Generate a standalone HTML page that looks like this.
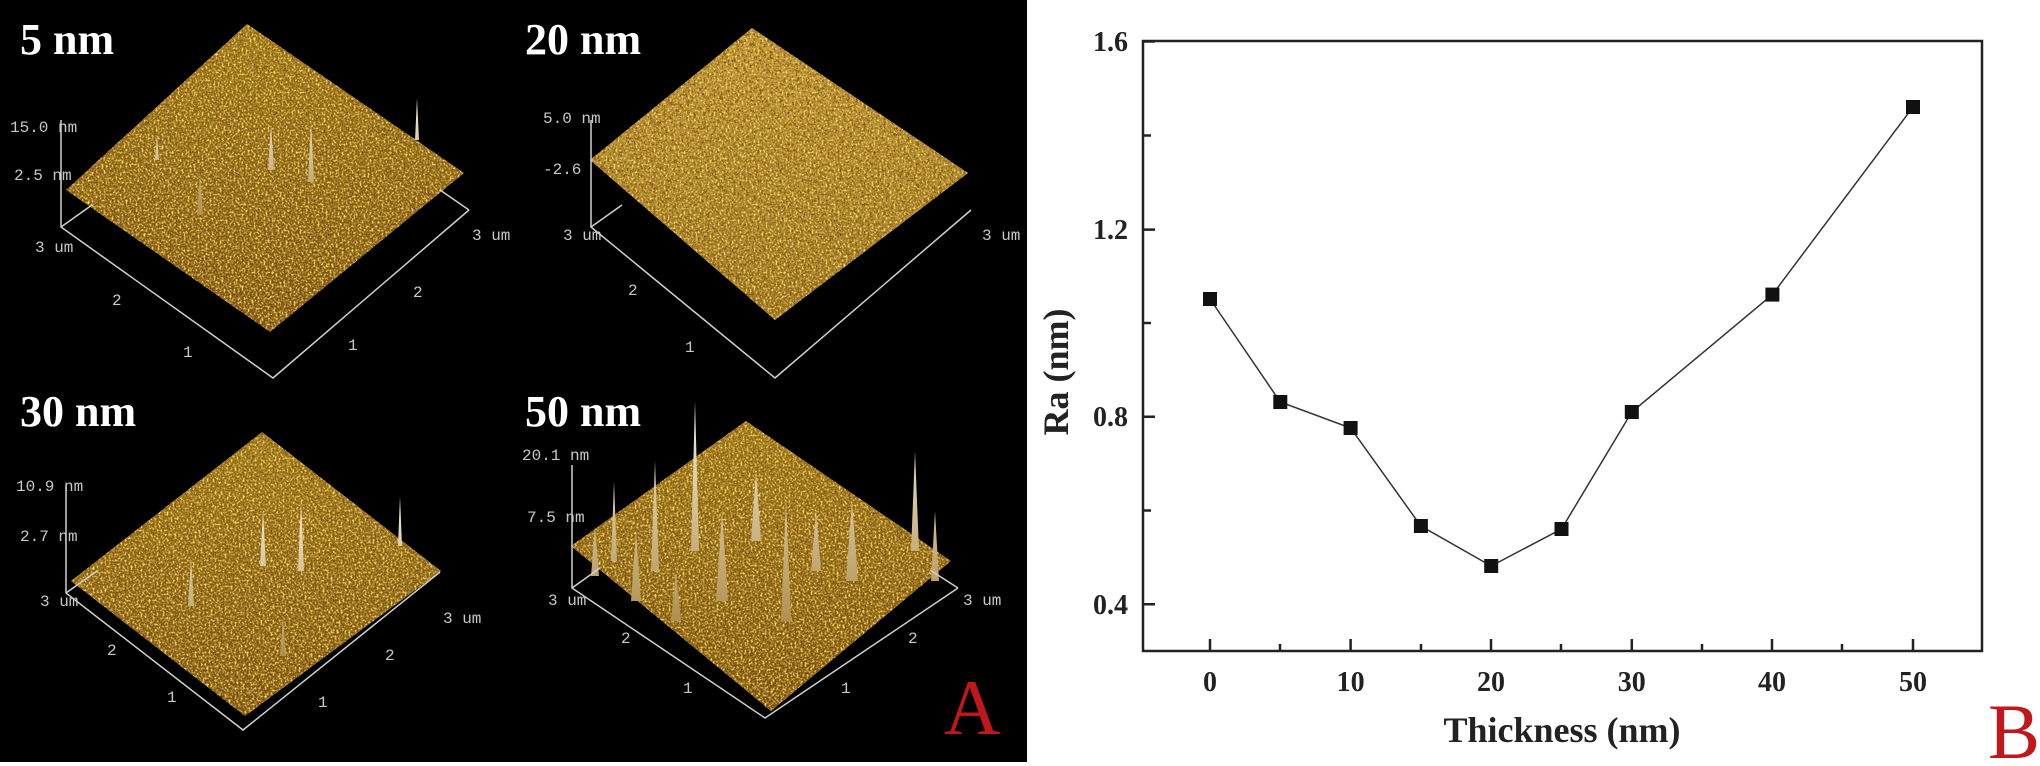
<!DOCTYPE html>
<html><head><meta charset="utf-8"><style>
html,body{margin:0;padding:0;background:#fff;}
svg{display:block;}
.ax{font-family:"Liberation Mono",monospace;font-size:16px;fill:#c8c8c8;}
.tt{font-family:"Liberation Serif",serif;font-weight:bold;font-size:44px;fill:#fff;}
.tk{font-family:"Liberation Serif",serif;font-weight:bold;font-size:28px;fill:#222;}
</style></head><body>
<svg width="2040" height="766" viewBox="0 0 2040 766" xmlns="http://www.w3.org/2000/svg">
<defs>
<filter id="tex" x="0" y="0" width="100%" height="100%">
<feTurbulence type="fractalNoise" baseFrequency="0.5" numOctaves="2" seed="3" result="n"/>
<feColorMatrix in="n" type="matrix" values="2 0 0 0 -0.3  1.7 0 0 0 -0.4  0.3 0 0 0 -0.05  0 0 0 4 -1.7" result="c"/>
<feComposite in="c" in2="SourceGraphic" operator="in"/>
</filter>
<filter id="dk" x="0" y="0" width="100%" height="100%">
<feTurbulence type="fractalNoise" baseFrequency="0.3" numOctaves="2" seed="7" result="n"/>
<feColorMatrix in="n" type="matrix" values="0 0 0 0 0.25  0 0 0 0 0.12  0 0 0 0 0  0 0 0 4 -1.8" result="c"/>
<feComposite in="c" in2="SourceGraphic" operator="in"/>
</filter>
<linearGradient id="g1" x1="0" y1="0" x2="0" y2="1">
<stop offset="0" stop-color="#9a7616"/><stop offset="1" stop-color="#6e4a0c"/></linearGradient>
<linearGradient id="g2" x1="0" y1="0" x2="0" y2="1">
<stop offset="0" stop-color="#c09a3a"/><stop offset="1" stop-color="#94701e"/></linearGradient>
<linearGradient id="sp" x1="0" y1="0" x2="0" y2="1">
<stop offset="0" stop-color="#f4f0dc"/><stop offset="1" stop-color="#b09050"/></linearGradient>
</defs>
<rect x="0" y="0" width="1027" height="762" fill="#000"/>

<g>
<polygon points="247,24 464,173 270,332 66,190" fill="url(#g1)"/>
<polygon points="247,24 464,173 270,332 66,190" fill="#fff" filter="url(#dk)"/>
<polygon points="247,24 464,173 270,332 66,190" fill="#fff" filter="url(#tex)"/>
<path d="M308,182 l3,-60 l3,60z M268,170 l3,-45 l3,45z M197,215 l3,-40 l3,40z M415,140 l2,-42 l2,42z M155,160 l2,-25 l2,25z" fill="url(#sp)"/>
</g>
<g>
<polygon points="752,28 968,173 775,320 590,160" fill="url(#g2)"/>
<polygon points="752,28 968,173 775,320 590,160" fill="#fff" filter="url(#dk)"/>
<polygon points="752,28 968,173 775,320 590,160" fill="#fff" filter="url(#tex)"/>
</g>
<g transform="translate(5,366)">
<polygon points="257,66 436,205 240,350 66,215" fill="url(#g1)"/>
<polygon points="257,66 436,205 240,350 66,215" fill="#fff" filter="url(#dk)"/>
<polygon points="257,66 436,205 240,350 66,215" fill="#fff" filter="url(#tex)"/>
<path d="M293,205 l3,-70 l3,70z M255,200 l3,-55 l3,55z M183,240 l3,-48 l3,48z M393,180 l2,-50 l2,50z M275,290 l3,-40 l3,40z" fill="url(#sp)"/>
</g>
<g transform="translate(511,361)">
<polygon points="235,60 440,200 260,350 60,185" fill="url(#g1)"/>
<polygon points="235,60 440,200 260,350 60,185" fill="#fff" filter="url(#dk)"/>
<polygon points="235,60 440,200 260,350 60,185" fill="#fff" filter="url(#tex)"/>
<path d="M180,190 l4,-150 l4,150z M140,210 l4,-110 l4,110z M100,200 l3,-80 l3,80z M240,180 l5,-70 l5,70z M205,240 l6,-90 l6,90z M335,220 l6,-80 l6,80z M270,260 l5,-120 l5,120z M400,190 l4,-100 l4,100z M300,210 l5,-60 l5,60z M120,240 l5,-70 l5,70z M160,260 l5,-50 l5,50z M80,215 l4,-50 l4,50z M420,220 l4,-70 l4,70z" fill="url(#sp)"/>
</g>

<g stroke="#d0d0d0" stroke-width="1.5" fill="none">
<path d="M61,120 V227 L273,378 L469,210 M61,227 L92,205 M469,210 L440,190"/>
<path d="M591,120 V227 L775,378 L971,210 M591,227 L622,205"/>
<path d="M66,486 V593 L243,730 L440,572 M66,593 L97,571"/>
<path d="M572,465 V588 L765,718 L958,588 M572,588 L600,568 M958,588 L930,570"/>
</g>
<g class="ax">
<text x="10" y="132">15.0 nm</text><text x="14" y="180">2.5 nm</text><text x="35" y="252">3 um</text><text x="472" y="240">3 um</text>
<text x="112" y="305">2</text><text x="183" y="357">1</text><text x="348" y="350">1</text><text x="413" y="297">2</text>
<text x="543" y="123">5.0 nm</text><text x="543" y="174">-2.6</text><text x="563" y="240">3 um</text><text x="982" y="240">3 um</text>
<text x="628" y="295">2</text><text x="685" y="352">1</text>
<text x="16" y="491">10.9 nm</text><text x="20" y="541">2.7 nm</text><text x="40" y="606">3 um</text><text x="443" y="623">3 um</text>
<text x="107" y="655">2</text><text x="167" y="702">1</text><text x="318" y="707">1</text><text x="385" y="660">2</text>
<text x="522" y="460">20.1 nm</text><text x="527" y="522">7.5 nm</text><text x="548" y="605">3 um</text><text x="963" y="605">3 um</text>
<text x="621" y="643">2</text><text x="683" y="693">1</text><text x="841" y="693">1</text><text x="908" y="643">2</text>
</g>
<text class="tt" x="20" y="54">5 nm</text>
<text class="tt" x="525" y="54">20 nm</text>
<text class="tt" x="20" y="426">30 nm</text>
<text class="tt" x="525" y="426">50 nm</text>
<text x="944" y="734" font-family="Liberation Serif,serif" font-size="78" fill="#c0171c">A</text>

<rect x="1143" y="41" width="839" height="610" fill="none" stroke="#222" stroke-width="2.5"/>
<g stroke="#222" stroke-width="2.5">
<path d="M1143,41.5 h12 M1143,135.5 h8 M1143,229.6 h12 M1143,323 h8 M1143,416.7 h12 M1143,510.5 h8 M1143,604.3 h12"/>
<path d="M1210,651 v-12 M1280,651 v-7 M1350.6,651 v-12 M1421,651 v-7 M1491,651 v-12 M1561,651 v-7 M1631.8,651 v-12 M1702,651 v-7 M1772,651 v-12 M1842,651 v-7 M1913,651 v-12"/>
</g>
<g class="tk" text-anchor="end">
<text x="1128" y="51">1.6</text><text x="1128" y="239">1.2</text><text x="1128" y="426">0.8</text><text x="1128" y="614">0.4</text>
</g>
<g class="tk" text-anchor="middle">
<text x="1210" y="691">0</text><text x="1350.6" y="691">10</text><text x="1491" y="691">20</text><text x="1631.8" y="691">30</text><text x="1772" y="691">40</text><text x="1913" y="691">50</text>
</g>
<text x="1562" y="742" text-anchor="middle" font-family="Liberation Serif,serif" font-weight="bold" font-size="36" fill="#222">Thickness (nm)</text>
<text transform="translate(1068,372) rotate(-90)" text-anchor="middle" font-family="Liberation Serif,serif" font-weight="bold" font-size="36" fill="#222">Ra (nm)</text>
<polyline fill="none" stroke="#333" stroke-width="1.5" points="1210,299 1280.3,402 1350.6,428 1420.9,526 1491.2,566 1561.5,529 1631.8,412 1772.4,294.6 1913,107"/>
<g fill="#111">
<rect x="1203" y="292" width="14" height="14"/><rect x="1273.3" y="395" width="14" height="14"/><rect x="1343.6" y="421" width="14" height="14"/>
<rect x="1413.9" y="519" width="14" height="14"/><rect x="1484.2" y="559" width="14" height="14"/><rect x="1554.5" y="522" width="14" height="14"/>
<rect x="1624.8" y="405" width="14" height="14"/><rect x="1765.4" y="287.6" width="14" height="14"/><rect x="1906" y="100" width="14" height="14"/>
</g>
<text x="1988" y="758" font-family="Liberation Serif,serif" font-size="78" fill="#c0171c">B</text>
</svg>
</body></html>
